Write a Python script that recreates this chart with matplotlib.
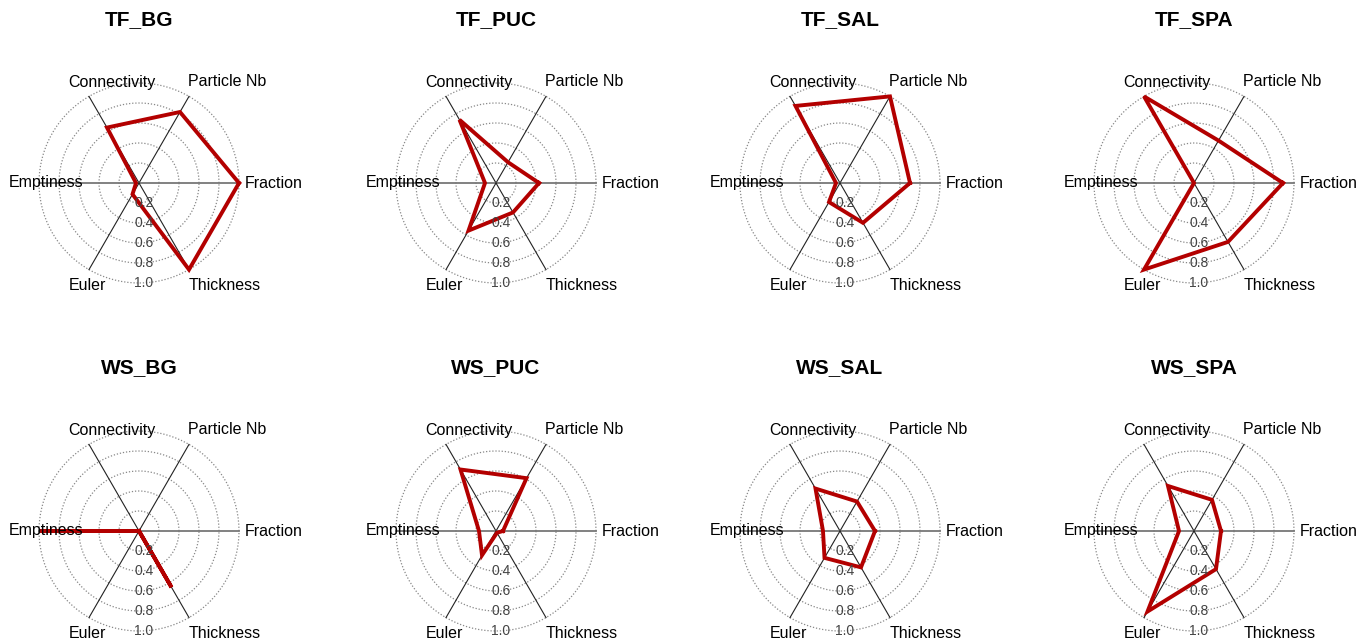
import matplotlib.pyplot as plt
import numpy as np

plt.rcParams["font.family"] = ["Liberation Sans", "DejaVu Sans"]

axis_names = ["Fraction", "Particle Nb", "Connectivity", "Emptiness", "Euler", "Thickness"]
titles = ["TF_BG", "TF_PUC", "TF_SAL", "TF_SPA", "WS_BG", "WS_PUC", "WS_SAL", "WS_SPA"]
# values in order Fraction, Particle Nb, Connectivity, Emptiness, Euler, Thickness
tf_bg = [1.0, 0.82, 0.64, 0.03, 0.13, 1.0]
tf_puc = [0.43, 0.24, 0.73, 0.11, 0.55, 0.34]
tf_sal = [0.70, 1.0, 0.89, 0.04, 0.22, 0.46]
tf_spa = [0.89, 0.49, 1.0, 0.0, 1.0, 0.68]
ws_bg = [0.0, 0.0, 0.0, 1.0, 0.0, 0.65]
ws_puc = [0.07, 0.61, 0.71, 0.17, 0.28, 0.02]
ws_sal = [0.35, 0.34, 0.49, 0.17, 0.31, 0.42]
ws_spa = [0.27, 0.36, 0.52, 0.15, 0.93, 0.44]
all_vals = [tf_bg, tf_puc, tf_sal, tf_spa, ws_bg, ws_puc, ws_sal, ws_spa]
ring_levels = [0.2, 0.4, 0.6, 0.8, 1.0]

W, H = 1364, 640
centers_x = [139, 496, 840, 1194]
centers_y = [183, 531]
half = 140  # px, 100 px per unit

fig = plt.figure(figsize=(W / 100, H / 100), dpi=100)
angles = np.deg2rad(np.arange(6) * 60)
# label positions (unit coords relative to centre)
lab_pos = [(1.06, 0.0, "left"), (0.88, 1.01, "center"), (-0.27, 1.01, "center"),
           (-0.93, 0.0, "center"), (-0.52, -1.02, "center"), (0.86, -1.02, "center")]

for k, (title, vals) in enumerate(zip(titles, all_vals)):
    cx = centers_x[k % 4]
    cy = H - centers_y[k // 4]
    ax = fig.add_axes([(cx - half) / W, (cy - half) / H, 2 * half / W, 2 * half / H])
    ax.set_xlim(-1.4, 1.4)
    ax.set_ylim(-1.4, 1.4)
    ax.axis("off")
    t = np.linspace(0, 2 * np.pi, 200)
    for r in ring_levels:
        ax.plot(r * np.cos(t), r * np.sin(t), color="#888888", lw=0.9, ls=(0, (1, 1.5)))
    for i, a in enumerate(angles):
        horiz = i in (0, 3)
        ax.plot([0, np.cos(a)], [0, np.sin(a)], color="#777777" if horiz else "#222222",
                lw=1.3 if horiz else 0.8)
    v = np.array(vals + vals[:1])
    aa = np.concatenate([angles, angles[:1]])
    ax.plot(v * np.cos(aa), v * np.sin(aa), color="#b30000", lw=2.8, solid_joinstyle="miter", clip_on=False)
    for r in ring_levels:
        ax.text(0.05, -r, "%.1f" % r, ha="center", va="center", fontsize=10, color="#444444")
    for (lx, ly, ha), name in zip(lab_pos, axis_names):
        ax.text(lx, ly, name, ha=ha, va="center", fontsize=11.5, clip_on=False)
    ax.text(0, 1.63, title, ha="center", va="center", fontsize=15, fontweight="bold", clip_on=False)

fig.savefig("out.png", dpi=100)
